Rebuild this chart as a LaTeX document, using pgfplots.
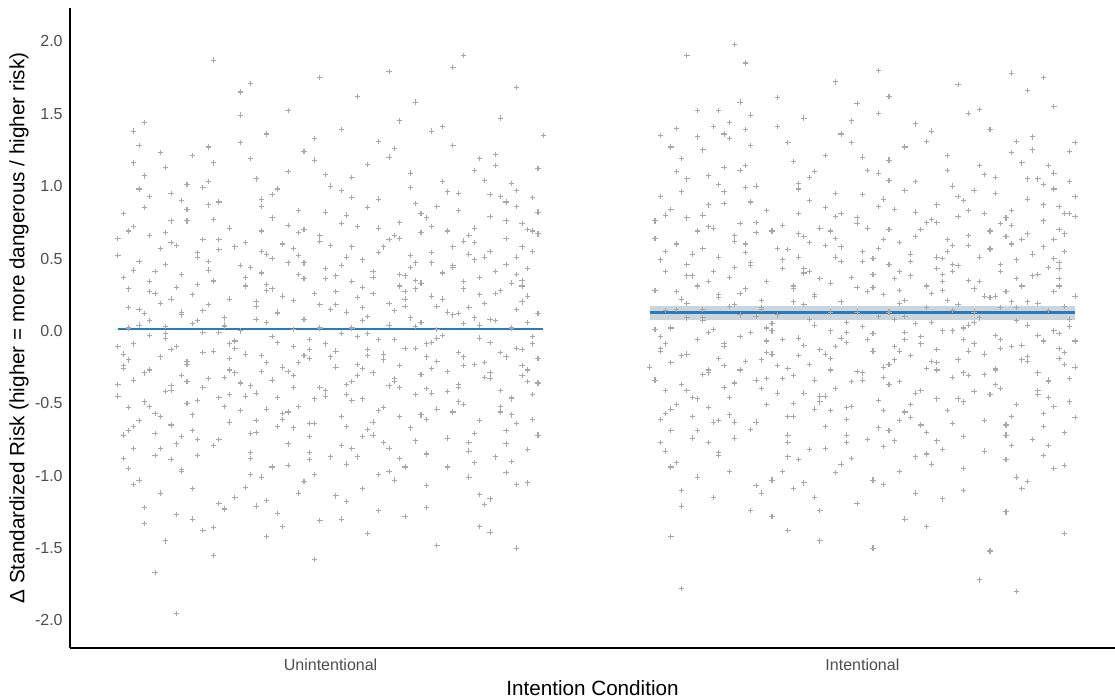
\documentclass[border=0pt]{standalone}
\usepackage{pgfplots}
\pgfplotsset{compat=1.18}
\usepackage{fontspec}
\setmainfont{Liberation Sans}
\definecolor{ptcol}{RGB}{168,168,168}
\definecolor{linecol}{RGB}{43,123,186}
\definecolor{bandcol}{RGB}{170,185,195}
\definecolor{bandcolA}{RGB}{150,205,230}
\definecolor{tickcol}{RGB}{77,77,77}
\begin{document}
\begin{tikzpicture}
\useasboundingbox (-52.5pt,-39pt) rectangle (783.75pt,486pt);
\begin{axis}[
  at={(0,0)}, anchor=south west,
  scale only axis, width=783.75pt, height=480pt,
  xmin=0.51, xmax=2.475, ymin=-2.19, ymax=2.23,
  axis x line*=bottom, axis y line*=left,
  axis line style={line width=0.9pt, black, -},
  major tick length=0pt,
  xtick={1,2}, xticklabels={Unintentional,Intentional},
  ytick={-2,-1.5,-1,-0.5,0,0.5,1,1.5,2},
  /pgf/number format/assume math mode=true,
  yticklabel style={/pgf/number format/.cd, fixed, fixed zerofill, precision=1, /tikz/.cd, font=\fontsize{12}{14}\selectfont, color=tickcol, xshift=-2pt},
  xticklabel style={font=\fontsize{12}{14}\selectfont, color=tickcol, yshift=-5pt},
  xlabel={Intention Condition},
  ylabel={Δ Standardized Risk (higher = more dangerous / higher risk)},
  xlabel style={font=\fontsize{15.5}{18}\selectfont, at={(axis description cs:0.5,0)}, anchor=center, yshift=-30pt},
  ylabel style={font=\fontsize{15.5}{18}\selectfont, at={(axis description cs:-0.0488,0.5)}, anchor=center},
  clip=false,
]
% Unintentional points
\addplot[only marks, mark=+, mark size=2pt, color=ptcol, line width=0.8pt] coordinates {
(0.63,0.42) (1.12,-0.35) (0.87,0.91) (1.31,0.07) (0.71,-0.78) (1.05,0.23) (0.94,-1.12) (1.38,0.55) (0.78,-0.14) (1.21,1.03)
(0.66,-0.52) (1.17,0.68) (0.82,-0.29) (1.27,-0.91) (0.99,0.36) (0.74,1.21) (1.34,-0.47) (0.90,0.12) (1.08,-0.63) (0.61,0.81)
(1.25,0.29) (0.85,-0.71) (1.02,0.97) (0.69,-0.05) (1.36,0.74) (0.93,-0.39) (1.14,-1.28) (0.77,0.48) (1.29,-0.22) (0.64,-1.03)
(1.10,0.58) (0.80,0.03) (1.33,-0.69) (0.96,-0.84) (0.67,0.26) (1.19,-0.08) (0.88,1.36) (1.03,-0.44) (0.72,-0.31) (1.39,1.12)
(0.62,0.16) (1.23,0.44) (0.91,-0.57) (1.07,0.85) (0.79,-1.19) (1.30,-0.33) (0.98,0.62) (0.70,0.95) (1.16,-0.76) (0.84,0.31)
(1.35,-0.12) (0.75,-0.48) (1.01,0.18) (1.26,0.66) (0.89,-0.94) (0.65,1.07) (1.13,0.39) (0.95,-0.17) (1.37,-1.05) (0.81,0.71)
(1.06,-0.26) (0.68,0.57) (1.32,0.93) (0.86,-0.62) (1.20,-0.54) (0.73,-0.23) (0.97,1.18) (1.15,0.09) (0.60,-0.37) (1.28,0.37)
(0.92,0.47) (1.11,-0.97) (0.76,0.14) (1.24,-0.15) (0.83,1.49) (1.04,-0.81) (0.63,-0.66) (1.37,0.24) (0.99,-0.41) (1.18,0.78)
(0.70,-0.89) (1.29,0.51) (0.88,0.06) (1.09,1.31) (0.66,0.34) (1.22,-0.28) (0.94,0.83) (1.34,-0.58) (0.78,-1.36) (1.02,-0.02)
(1.39,0.67) (0.81,-0.19) (1.14,0.27) (0.61,-0.26) (1.00,0.59) (0.87,-1.01) (1.31,1.22) (0.74,0.05) (1.19,-0.43) (0.96,-0.73)
(0.64,1.28) (1.08,0.41) (0.85,-0.38) (1.26,-0.77) (0.71,-0.11) (1.16,0.88) (0.93,0.21) (1.36,-0.31) (0.79,0.63) (1.03,-1.18)
(1.23,0.11) (0.68,-0.59) (1.12,-0.06) (0.90,0.98) (1.33,0.46) (0.75,-0.86) (1.05,0.72) (0.62,0.02) (1.28,-1.13) (0.84,-0.45)
(0.97,-0.64) (1.21,1.41) (0.72,0.39) (1.38,-0.09) (0.86,0.17) (1.10,-0.53) (0.65,-1.22) (1.30,0.79) (0.91,-0.25) (1.17,0.33)
(0.77,0.87) (1.04,-0.35) (1.35,0.15) (0.69,-0.42) (1.13,-0.88) (0.94,0.52) (1.25,-0.18) (0.82,-0.07) (1.07,1.15) (0.60,0.64)
(1.32,-0.56) (0.88,0.28) (1.18,-1.07) (0.73,0.76) (1.01,-0.14) (1.27,0.61) (0.80,-0.32) (1.11,0.04) (0.66,0.93) (1.37,-0.82)
(0.95,0.36) (1.20,-0.21) (0.63,-0.81) (1.06,0.49) (0.83,-0.55) (1.34,1.02) (0.76,-0.01) (1.15,-0.67) (0.99,0.82) (1.29,0.19)
(0.70,0.22) (1.09,-1.24) (0.87,0.69) (1.24,-0.39) (0.61,-0.16) (1.03,0.13) (1.39,-0.72) (0.92,-0.93) (1.19,0.54) (0.78,1.16)
(1.14,0.38) (0.67,-0.71) (1.30,0.08) (0.85,0.44) (1.06,-0.47) (0.74,-1.09) (1.22,0.96) (0.96,-0.13) (1.36,0.35) (0.81,-0.27)
(1.00,-0.87) (1.27,0.71) (0.64,0.48) (1.12,1.26) (0.89,-0.04) (1.33,-0.98) (0.72,0.11) (1.08,-0.29) (0.93,0.57) (1.18,-0.61)
(0.79,-0.46) (1.37,0.43) (0.62,-0.95) (1.04,0.92) (0.86,1.05) (1.25,-0.24) (0.69,0.68) (1.16,-0.12) (0.98,-1.31) (1.31,0.26)
(0.66,0.07) (1.11,0.63) (0.90,-0.66) (1.28,-0.05) (0.75,0.32) (1.02,-0.79) (1.35,0.86) (0.83,-0.36) (1.20,0.17) (0.97,1.33)
(1.07,-0.02) (0.71,-1.27) (1.32,-0.41) (0.88,0.53) (1.15,0.99) (0.63,-0.34) (1.24,0.12) (0.94,-0.52) (0.78,0.77) (1.39,-0.19)
(0.85,-0.84) (1.19,0.47) (0.68,0.19) (1.05,-0.23) (1.30,-1.16) (0.92,0.73) (0.74,-0.58) (1.13,0.31) (1.36,0.58) (0.99,-0.09)
(1.22,-0.74) (0.60,0.52) (1.01,0.38) (0.87,-0.17) (1.34,0.02) (0.76,0.99) (1.09,-0.99) (0.65,-0.49) (1.27,1.11) (0.91,0.24)
(0.80,0.09) (1.16,-0.44) (0.96,-0.89) (1.38,0.69) (0.70,-0.13) (1.04,1.06) (0.84,0.61) (1.23,-0.56) (0.62,-0.69) (1.12,0.14)
(1.29,-0.32) (0.73,0.84) (1.10,-0.16) (0.89,0.29) (1.35,-0.64) (0.67,0.41) (1.03,-0.37) (0.95,1.24) (1.18,-0.85) (0.82,-1.15)
(0.61,-0.24) (1.26,0.53) (0.93,0.01) (1.07,-0.68) (0.77,-0.33) (1.33,0.89) (0.86,-1.21) (1.14,0.22) (0.69,1.13) (1.21,-0.03)
(1.02,0.45) (0.79,-0.75) (1.37,-0.27) (0.64,0.15) (1.17,0.81) (0.90,-0.46) (1.25,0.34) (0.72,-0.96) (1.06,0.07) (0.98,0.66)
(1.31,-0.87) (0.84,0.37) (1.13,-0.59) (0.66,-0.03) (1.00,-0.18) (1.28,1.19) (0.75,0.54) (1.08,0.26) (0.92,-0.78) (1.38,-0.04)
(0.70,-0.41) (1.19,-0.26) (0.87,0.86) (1.04,0.58) (0.63,0.72) (1.32,-0.15) (0.95,-1.04) (1.23,0.45) (0.80,0.04) (1.11,-0.38)
(1.15,1.09) (0.68,-0.18) (0.99,0.43) (1.34,-0.46) (0.81,-0.63) (1.06,0.16) (0.61,0.37) (1.27,-0.71) (0.89,0.94) (1.20,0.01)
(0.74,0.25) (1.09,-0.55) (1.36,0.31) (0.93,-0.31) (0.65,-1.33) (1.22,0.69) (0.86,0.08) (1.03,-0.92) (1.30,-0.08) (0.77,1.27)
(0.96,-0.06) (1.24,-0.49) (0.71,0.59) (1.13,0.75) (0.88,-0.22) (1.39,0.12) (0.62,-0.53) (1.01,0.27) (1.18,-1.22) (0.83,0.45)
(1.10,-0.77) (0.78,0.35) (1.29,1.04) (0.67,-0.86) (1.05,-0.04) (0.91,-0.61) (1.35,0.51) (0.73,-0.21) (1.16,0.47) (0.98,0.18)
(0.64,0.98) (1.21,0.22) (0.85,-0.99) (1.12,-0.33) (0.69,0.03) (1.33,0.64) (0.94,0.39) (1.07,-0.13) (0.80,-0.52) (1.26,-1.01)
(1.02,0.74) (0.76,-0.39) (1.37,-0.35) (0.90,-0.08) (1.17,0.06) (0.63,-1.06) (1.24,0.83) (0.87,0.55) (1.08,-0.72) (0.72,0.13)
(1.31,0.41) (0.97,-0.47) (0.66,0.66) (1.14,-0.94) (0.82,-0.12) (1.04,0.34) (1.38,-0.61) (0.75,-0.75) (1.19,1.38) (0.92,-0.28)
(0.60,-0.11) (1.27,-0.23) (0.89,0.78) (1.11,0.19) (0.70,-0.65) (1.35,0.97) (0.95,0.08) (1.22,-0.42) (0.79,0.56) (1.06,-1.09)
(1.00,0.15) (0.73,1.01) (1.33,-0.78) (0.86,-0.43) (1.16,0.29) (0.65,-0.29) (1.09,0.91) (0.93,-0.67) (1.28,0.04) (0.81,0.22)
(1.18,-0.18) (0.62,0.29) (1.03,0.51) (0.88,-1.17) (1.36,-0.24) (0.77,0.42) (1.13,-0.39) (0.99,1.08) (1.25,0.62) (0.68,-0.81)
(0.65,0.12) (1.09,0.71) (0.84,-0.16) (1.30,0.55) (0.72,-0.97) (1.17,-0.30) (0.97,0.26) (1.38,-0.44) (0.79,0.89) (1.02,-0.59)
(1.24,0.95) (0.61,-0.72) (1.07,0.10) (0.90,-1.26) (1.34,0.33) (0.76,0.63) (1.14,-0.12) (0.94,-0.22) (1.28,-0.62) (0.69,0.46)
(0.87,0.40) (1.20,0.86) (0.63,-0.09) (1.05,-0.87) (1.37,0.70) (0.81,-0.44) (1.11,1.20) (0.98,0.02) (0.73,-0.35) (1.26,0.16)
(1.01,-1.14) (0.70,0.76) (1.32,0.28) (0.88,-0.54) (1.15,0.52) (0.66,-0.27) (1.22,-0.94) (0.92,1.10) (1.39,-0.36) (0.79,-0.01)
(1.13,0.64) (0.86,0.20) (1.35,-1.06) (0.62,0.69) (1.04,-0.48) (0.95,0.47) (1.27,0.09) (0.74,-0.69) (1.18,-0.09) (0.83,1.30)
(0.68,-1.12) (1.10,-0.20) (0.91,0.60) (1.31,1.14) (0.77,0.18) (1.06,-0.73) (1.36,-0.13) (0.85,-0.88) (1.21,0.40) (0.64,0.04)
(1.00,1.00) (1.25,-0.51) (0.71,0.30) (1.16,0.03) (0.89,-0.34) (1.33,0.76) (0.60,-0.45) (1.08,0.37) (0.96,-0.64) (1.29,-1.20)
(0.82,0.58) (1.19,0.24) (0.67,-0.57) (1.03,0.80) (1.37,0.06) (0.93,-0.11) (1.12,-1.03) (0.75,0.07) (1.23,1.28) (0.88,0.32)
(1.05,-0.31) (0.72,0.90) (1.30,-0.29) (0.84,-1.08) (1.14,0.17) (0.62,-0.20) (1.27,0.49) (0.99,-0.45) (0.78,-0.79) (1.39,0.82)
(0.94,0.68) (1.17,-0.58) (0.69,-0.02) (1.09,0.54) (0.86,-0.70) (1.33,-0.18) (0.65,0.85) (1.22,0.13) (1.01,-0.25) (0.80,-1.23)
(1.35,0.39) (0.76,-0.15) (1.12,0.66) (0.90,0.13) (1.26,-0.83) (0.63,1.16) (1.04,0.02) (0.97,-0.99) (1.19,0.72) (0.73,-0.50)
(0.85,1.19) (1.28,0.25) (0.70,-0.38) (1.07,-0.17) (1.38,0.92) (0.92,-0.56) (1.15,0.44) (0.66,0.27) (1.24,-0.37) (0.81,-0.09)
(1.11,-0.81) (0.75,0.51) (1.32,-0.52) (0.95,0.70) (0.61,-0.88) (1.20,-0.05) (0.87,-0.28) (1.02,1.39) (1.36,0.20) (0.78,0.34)
(0.98,-0.39) (1.23,0.58) (0.68,1.23) (1.13,-0.24) (0.83,0.00) (1.30,0.94) (0.72,-0.73) (1.06,0.30) (0.91,-1.35) (1.18,-0.40)
(0.64,-0.62) (1.09,-0.06) (0.89,0.50) (1.34,-0.90) (0.77,1.03) (1.16,0.35) (0.96,-0.19) (1.25,0.05) (0.70,0.61) (1.03,-0.66)
(0.71,-1.95) (0.67,-1.67) (0.78,-1.55) (1.25,1.90) (0.78,1.87) (1.23,1.82) (1.11,1.79) (0.98,1.75) (1.35,1.68) (0.83,1.65)
(1.35,-1.50) (0.69,-1.45) (1.07,-1.40) (1.28,-1.35) (0.74,-1.30) (1.16,1.58) (0.92,1.52) (1.32,1.47) (0.65,1.44) (1.05,1.62)
(0.88,-1.42) (1.20,-1.48) (0.97,-1.58) (0.63,1.38) (1.40,1.35) (1.30,-1.39) (0.85,1.71) (1.02,-1.30) (1.13,1.45) (0.76,-1.38)
};
% Intentional points
\addplot[only marks, mark=+, mark size=2pt, color=ptcol, line width=0.8pt] coordinates {
(1.63,0.55) (2.14,-0.22) (1.88,1.02) (2.33,0.19) (1.72,-0.63) (2.06,0.36) (1.95,-0.98) (2.38,0.67) (1.79,-0.01) (2.22,1.14)
(1.67,-0.41) (2.18,0.79) (1.83,-0.16) (2.28,-0.79) (2.00,0.48) (1.75,1.33) (2.35,-0.35) (1.91,0.25) (2.09,-0.51) (1.62,0.93)
(2.26,0.41) (1.86,-0.59) (2.03,1.09) (1.70,0.07) (2.37,0.86) (1.94,-0.27) (2.15,-1.16) (1.78,0.60) (2.30,-0.10) (1.65,-0.91)
(2.11,0.70) (1.81,0.15) (2.34,-0.57) (1.97,-0.72) (1.68,0.38) (2.20,0.04) (1.89,1.47) (2.04,-0.32) (1.73,-0.19) (2.39,1.24)
(1.61,0.28) (2.24,0.56) (1.92,-0.45) (2.08,0.97) (1.80,-1.07) (2.31,-0.21) (1.99,0.74) (1.71,1.07) (2.17,-0.64) (1.85,0.43)
(2.36,0.00) (1.76,-0.36) (2.02,0.30) (2.27,0.78) (1.90,-0.82) (1.66,1.19) (2.14,0.51) (1.96,-0.05) (2.38,-0.93) (1.82,0.83)
(2.07,-0.14) (1.69,0.69) (2.33,1.05) (1.87,-0.50) (2.21,-0.42) (1.74,-0.11) (1.98,1.30) (2.16,0.21) (1.60,-0.25) (2.29,0.49)
(1.93,0.59) (2.12,-0.85) (1.77,0.26) (2.25,-0.03) (1.84,1.61) (2.05,-0.69) (1.64,-0.54) (2.37,0.36) (2.00,-0.29) (2.19,0.90)
(1.71,-0.77) (2.30,0.63) (1.89,0.18) (2.10,1.43) (1.67,0.46) (2.23,-0.16) (1.95,0.95) (2.35,-0.46) (1.79,-1.24) (2.03,0.10)
(2.40,0.79) (1.82,-0.07) (2.15,0.39) (1.62,-0.14) (2.01,0.71) (1.88,-0.89) (2.32,1.34) (1.75,0.17) (2.20,-0.31) (1.97,-0.61)
(1.65,1.40) (2.09,0.53) (1.86,-0.26) (2.27,-0.65) (1.72,0.01) (2.17,1.00) (1.94,0.33) (2.37,-0.19) (1.80,0.75) (2.04,-1.06)
(2.24,0.23) (1.69,-0.47) (2.13,0.06) (1.91,1.10) (2.34,0.58) (1.76,-0.74) (2.06,0.84) (1.63,0.14) (2.29,-1.01) (1.85,-0.33)
(1.98,-0.52) (2.22,1.53) (1.73,0.51) (2.39,0.03) (1.87,0.29) (2.11,-0.41) (1.66,-1.10) (2.31,0.91) (1.92,-0.13) (2.18,0.45)
(1.78,0.99) (2.05,-0.23) (2.36,0.27) (1.70,-0.30) (2.14,-0.76) (1.95,0.64) (2.26,-0.06) (1.83,0.05) (2.08,1.27) (1.61,0.76)
(2.33,-0.44) (1.89,0.40) (2.19,-0.95) (1.74,0.88) (2.02,-0.02) (2.28,0.73) (1.81,-0.20) (2.12,0.16) (1.67,1.05) (2.38,-0.70)
(1.96,0.48) (2.21,-0.09) (1.64,-0.69) (2.07,0.61) (1.84,-0.43) (2.35,1.14) (1.77,0.11) (2.16,-0.55) (2.00,0.94) (2.30,0.31)
(1.71,0.34) (2.10,-1.12) (1.88,0.81) (2.25,-0.27) (1.62,-0.04) (2.04,0.25) (2.40,-0.60) (1.93,-0.81) (2.20,0.66) (1.79,1.28)
(2.15,0.50) (1.68,-0.59) (2.31,0.20) (1.86,0.56) (2.07,-0.35) (1.75,-0.97) (2.23,1.08) (1.97,-0.01) (2.37,0.47) (1.82,-0.15)
(2.01,-0.75) (2.28,0.83) (1.65,0.60) (2.13,1.38) (1.90,0.08) (2.34,-0.86) (1.73,0.23) (2.09,-0.17) (1.94,0.69) (2.19,-0.49)
(1.80,-0.34) (2.38,0.55) (1.63,-0.83) (2.05,1.04) (1.87,1.17) (2.26,-0.12) (1.70,0.80) (2.17,0.00) (1.99,-1.19) (2.32,0.38)
(1.67,0.19) (2.12,0.75) (1.91,-0.54) (2.29,0.07) (1.76,0.44) (2.03,-0.67) (2.36,0.98) (1.84,-0.24) (2.21,0.29) (1.98,1.45)
(2.08,0.10) (1.72,-1.15) (2.33,-0.29) (1.89,0.65) (2.16,1.11) (1.64,-0.22) (2.25,0.24) (1.95,-0.40) (1.79,0.89) (2.40,-0.07)
(1.86,-0.72) (2.20,0.59) (1.69,0.31) (2.06,-0.11) (2.31,-1.04) (1.93,0.85) (1.75,-0.46) (2.14,0.43) (2.37,0.70) (2.00,0.03)
(2.23,-0.62) (1.61,0.64) (2.02,0.50) (1.88,-0.05) (2.35,0.14) (1.77,1.11) (2.10,-0.87) (1.66,-0.37) (2.28,1.23) (1.92,0.36)
(1.81,0.21) (2.17,-0.32) (1.97,-0.77) (2.39,0.81) (1.71,-0.01) (2.05,1.18) (1.85,0.73) (2.24,-0.44) (1.63,-0.57) (2.13,0.26)
(2.30,-0.20) (1.74,0.96) (2.11,-0.04) (1.90,0.41) (2.36,-0.52) (1.68,0.53) (2.04,-0.25) (1.96,1.36) (2.19,-0.73) (1.83,-1.03)
(1.62,-0.12) (2.27,0.65) (1.94,0.13) (2.08,-0.56) (1.78,-0.21) (2.34,1.01) (1.87,-1.09) (2.15,0.34) (1.70,1.25) (2.22,0.09)
(2.03,0.57) (1.80,-0.63) (2.38,-0.15) (1.65,0.27) (2.18,0.93) (1.91,-0.34) (2.26,0.46) (1.73,-0.84) (2.07,0.19) (1.99,0.78)
(2.32,-0.75) (1.85,0.49) (2.14,-0.47) (1.67,0.09) (2.01,-0.06) (2.29,1.31) (1.76,0.66) (2.09,0.38) (1.93,-0.66) (2.39,0.08)
(1.71,-0.29) (2.20,-0.14) (1.88,0.98) (2.05,0.70) (1.64,0.84) (2.33,-0.03) (1.96,-0.92) (2.24,0.57) (1.81,0.16) (2.12,-0.26)
(2.16,1.21) (1.69,-0.06) (2.00,0.55) (2.35,-0.34) (1.82,-0.51) (2.07,0.28) (1.62,0.49) (2.28,-0.59) (1.90,1.06) (2.21,0.13)
(1.75,0.37) (2.10,-0.43) (2.37,0.43) (1.94,-0.19) (1.66,-1.21) (2.23,0.81) (1.87,0.20) (2.04,-0.80) (2.31,0.04) (1.78,1.39)
(1.97,0.06) (2.25,-0.37) (1.72,0.71) (2.14,0.87) (1.89,-0.10) (2.40,0.24) (1.63,-0.41) (2.02,0.39) (2.19,-1.10) (1.84,0.57)
(2.11,-0.65) (1.79,0.47) (2.30,1.16) (1.68,-0.74) (2.06,0.08) (1.92,-0.49) (2.36,0.63) (1.74,-0.09) (2.17,0.59) (1.99,0.30)
(1.65,1.10) (2.22,0.34) (1.86,-0.87) (2.13,-0.21) (1.70,0.15) (2.34,0.76) (1.95,0.51) (2.08,-0.01) (1.81,-0.40) (2.27,-0.89)
(2.03,0.86) (1.77,-0.27) (2.38,-0.23) (1.91,0.04) (2.18,0.18) (1.64,-0.94) (2.25,0.95) (1.88,0.67) (2.09,-0.60) (1.73,0.25)
(2.32,0.53) (1.98,-0.35) (1.67,0.78) (2.15,-0.82) (1.83,0.00) (2.05,0.46) (2.39,-0.49) (1.76,-0.63) (2.20,1.50) (1.93,-0.16)
(1.61,0.01) (2.28,-0.11) (1.90,0.90) (2.12,0.31) (1.71,-0.53) (2.36,1.09) (1.96,0.20) (2.23,-0.30) (1.80,0.68) (2.07,-0.97)
(2.01,0.27) (1.74,1.13) (2.34,-0.66) (1.87,-0.31) (2.17,0.41) (1.66,-0.17) (2.10,1.03) (1.94,-0.55) (2.29,0.16) (1.82,0.34)
(2.19,-0.06) (1.63,0.41) (2.04,0.63) (1.89,-1.05) (2.37,-0.12) (1.78,0.54) (2.14,-0.27) (2.00,1.20) (2.26,0.74) (1.69,-0.69)
(1.66,0.22) (2.10,0.82) (1.85,-0.06) (2.31,0.67) (1.73,-0.86) (2.18,-0.20) (1.98,0.37) (2.39,-0.33) (1.80,1.00) (2.03,-0.48)
(2.25,1.06) (1.62,-0.61) (2.08,0.21) (1.91,-1.15) (2.35,0.44) (1.77,0.74) (2.15,0.00) (1.95,-0.11) (2.29,-0.51) (1.70,0.57)
(1.88,0.51) (2.21,0.97) (1.64,0.02) (2.06,-0.76) (2.38,0.81) (1.82,-0.33) (2.12,1.31) (1.99,0.13) (1.74,-0.24) (2.27,0.27)
(2.02,-1.03) (1.71,0.87) (2.33,0.39) (1.89,-0.43) (2.16,0.63) (1.67,-0.16) (2.23,-0.83) (1.93,1.21) (2.40,-0.25) (1.80,0.10)
(2.14,0.75) (1.87,0.31) (2.36,-0.95) (1.63,0.80) (2.05,-0.37) (1.96,0.58) (2.28,0.20) (1.75,-0.58) (2.19,0.02) (1.84,1.41)
(1.69,-1.01) (2.11,-0.09) (1.92,0.71) (2.32,1.25) (1.78,0.29) (2.07,-0.62) (2.37,-0.02) (1.86,-0.77) (2.22,0.51) (1.65,0.15)
(2.01,1.11) (2.26,-0.40) (1.72,0.41) (2.17,0.14) (1.90,-0.23) (2.34,0.87) (1.61,-0.34) (2.09,0.48) (1.97,-0.53) (2.30,-1.09)
(1.83,0.69) (2.20,0.35) (1.68,-0.46) (2.04,0.91) (2.38,0.17) (1.94,0.00) (2.13,-0.92) (1.76,0.18) (2.24,1.39) (1.89,0.43)
(2.06,-0.20) (1.73,1.01) (2.31,-0.18) (1.85,-0.97) (2.15,0.28) (1.63,-0.09) (2.28,0.60) (2.00,-0.34) (1.79,-0.68) (2.40,0.93)
(1.95,0.79) (2.18,-0.47) (1.70,0.09) (2.10,0.65) (1.87,-0.59) (2.34,-0.07) (1.66,0.96) (2.23,0.24) (2.02,-0.14) (1.81,-1.12)
(2.36,0.50) (1.77,-0.04) (2.13,0.77) (1.91,0.24) (2.27,-0.72) (1.64,1.27) (2.05,0.13) (1.98,-0.88) (2.20,0.83) (1.74,-0.39)
(1.86,1.30) (2.29,0.36) (1.71,-0.27) (2.08,-0.06) (2.39,1.03) (1.93,-0.45) (2.16,0.55) (1.67,0.38) (2.25,-0.26) (1.82,0.02)
(2.12,-0.70) (1.76,0.62) (2.33,-0.41) (1.96,0.81) (1.62,-0.77) (2.21,0.06) (1.88,-0.17) (2.03,1.50) (2.37,0.31) (1.79,0.45)
(1.99,-0.28) (2.24,0.69) (1.69,1.34) (2.14,-0.13) (1.84,0.11) (2.31,1.05) (1.73,-0.62) (2.07,0.41) (1.92,-1.24) (2.19,-0.29)
(1.65,-0.51) (2.10,0.05) (1.90,0.61) (2.35,-0.79) (1.78,1.14) (2.17,0.46) (1.97,-0.08) (2.26,0.16) (1.71,0.72) (2.04,-0.55)
(1.76,1.98) (1.67,1.90) (1.78,1.85) (2.03,1.80) (2.28,1.78) (2.34,1.75) (2.18,1.70) (2.29,-1.80) (1.66,-1.78) (2.22,-1.72)
(2.02,-1.50) (1.92,-1.45) (1.73,1.52) (1.75,1.44) (1.77,1.58) (1.74,1.36) (1.79,1.49) (1.72,1.41) (2.05,1.62) (2.36,1.55)
(1.64,-1.42) (2.12,-1.35) (2.38,-1.40) (1.86,-1.38) (2.31,1.66) (1.95,1.72) (1.69,1.52) (2.24,-1.52) (2.08,-1.30) (1.99,1.57)
(1.62,1.35) (2.40,1.30) (1.83,-1.28) (2.27,-1.25)
};
% confidence bands
\addplot[draw=none, fill=bandcolA, fill opacity=0.6] coordinates {(0.6,0.004) (1.4,0.004) (1.4,0.022) (0.6,0.022)} -- cycle;
\addplot[draw=none, fill=bandcol, fill opacity=0.6] coordinates {(1.6,0.076) (2.4,0.076) (2.4,0.173) (1.6,0.173)} -- cycle;
% mean lines
\addplot[linecol, line width=2pt] coordinates {(0.6,0.013) (1.4,0.013)};
\addplot[linecol, line width=2pt] coordinates {(1.6,0.125) (2.4,0.125)};
\end{axis}
\end{tikzpicture}
\end{document}
